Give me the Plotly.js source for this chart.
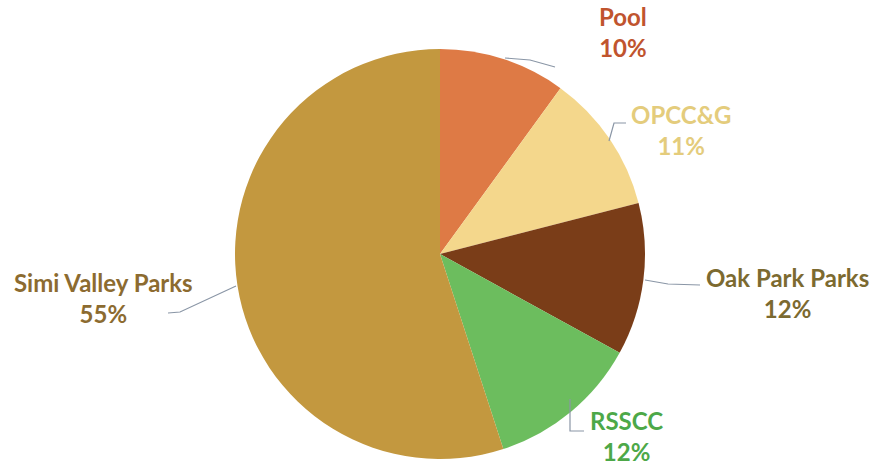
<!DOCTYPE html>
<html>
<head>
<meta charset="utf-8">
<script src="https://cdn.plot.ly/plotly-3.0.1.min.js"></script>
<style>html,body{margin:0;padding:0;background:#fff;}#chart{width:874px;height:466px;}</style>
</head>
<body>
<div id="chart"></div>
<script>
var categories = ["Pool", "OPCC&G", "Oak Park Parks", "RSSCC", "Simi Valley Parks"];
var shares = [10, 11, 12, 12, 55];
var sliceColors = ["#DE7A45", "#F4D78C", "#7A3D18", "#6CBD5E", "#C3983F"];
var labelColors = ["#C0542E", "#E4CC7C", "#7C6A30", "#4DA848", "#8C6B30"];

var W = 874, H = 466;
function px(x){ return x / W; }
function py(y){ return 1 - y / H; }

// label anchor positions (pixels) and leader line paths (pixels)
var labelPos = [[623, 32], [681, 130], [787, 293], [626, 436], [103, 298]];
var leaders = [
  [[505, 58], [530, 60], [555, 67]],
  [[609, 141], [614, 123], [626, 123]],
  [[645, 280], [668, 284], [700, 285]],
  [[570, 399], [570, 431], [584, 431]],
  [[168, 313], [180, 312], [236, 286]]
];

var annotations = categories.map(function(c, i){
  return {
    text: c + "<br>" + shares[i] + "%",
    x: px(labelPos[i][0]), y: py(labelPos[i][1]),
    xref: "paper", yref: "paper", showarrow: false,
    xanchor: "center", yanchor: "middle",
    font: {family: "Lato, 'Open Sans', sans-serif", size: 24, color: labelColors[i], weight: "bold"},
    align: "center"
  };
});

var shapes = leaders.map(function(pts){
  var d = pts.map(function(p, k){ return (k ? "L" : "M") + px(p[0]) + "," + py(p[1]); }).join(" ");
  return {type: "path", xref: "paper", yref: "paper", path: d, line: {color: "#8A96A6", width: 1.2}};
});

var cx = 440, cy = 254, r = 205;
var data = [{
  type: "pie",
  labels: categories,
  values: shares,
  marker: {colors: sliceColors, line: {width: 0}},
  sort: false,
  direction: "clockwise",
  rotation: 0,
  textinfo: "none",
  hoverinfo: "label+percent",
  domain: {x: [px(cx - r), px(cx + r)], y: [py(cy + r), py(cy - r)]}
}];

var layout = {
  width: W, height: H,
  margin: {l: 0, r: 0, t: 0, b: 0},
  paper_bgcolor: "#fff",
  showlegend: false,
  annotations: annotations,
  shapes: shapes
};

Plotly.newPlot("chart", data, layout, {displayModeBar: false, staticPlot: true});
</script>
</body>
</html>
